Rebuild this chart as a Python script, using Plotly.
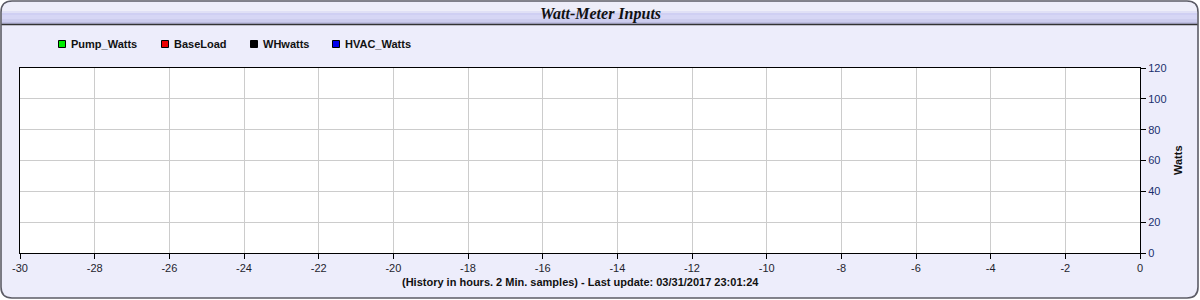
import plotly.graph_objects as go

# ---- data (chart is empty: no samples recorded) ----
series_names = ["Pump_Watts", "BaseLoad", "WHwatts", "HVAC_Watts"]
series_colors = ["#00ee00", "#ee0000", "#000000", "#0000ee"]
hours_pump, watts_pump = [], []
hours_base, watts_base = [], []
hours_wh, watts_wh = [], []
hours_hvac, watts_hvac = [], []
x_ticks = list(range(-30, 1, 2))
x_tick_labels = ["-30", "-28", "-26", "-24", "-22", "-20", "-18", "-16",
                 "-14", "-12", "-10", "-8", "-6", "-4", "-2", "0"]
y_ticks = list(range(0, 121, 20))
title_text = "Watt-Meter Inputs"
y_title = "Watts"
footer_text = "(History in hours. 2 Min. samples) - Last update: 03/31/2017 23:01:24"

W, H = 1200, 300


def px(x):
    return x / W


def py(y):
    return 1 - y / H


def rounded_path(x0, y0, x1, y1, r, top_only=False):
    # pixel coords -> paper path with quadratic corners
    pts = []
    pts.append(f"M {px(x0)},{py(y0 + r)}")
    pts.append(f"Q {px(x0)},{py(y0)} {px(x0 + r)},{py(y0)}")
    pts.append(f"L {px(x1 - r)},{py(y0)}")
    pts.append(f"Q {px(x1)},{py(y0)} {px(x1)},{py(y0 + r)}")
    if top_only:
        pts.append(f"L {px(x1)},{py(y1)}")
        pts.append(f"L {px(x0)},{py(y1)}")
    else:
        pts.append(f"L {px(x1)},{py(y1 - r)}")
        pts.append(f"Q {px(x1)},{py(y1)} {px(x1 - r)},{py(y1)}")
        pts.append(f"L {px(x0 + r)},{py(y1)}")
        pts.append(f"Q {px(x0)},{py(y1)} {px(x0)},{py(y1 - r)}")
    pts.append("Z")
    return " ".join(pts)


fig = go.Figure()
all_series = [
    (hours_pump, watts_pump),
    (hours_base, watts_base),
    (hours_wh, watts_wh),
    (hours_hvac, watts_hvac),
]
for name, color, (xs, ys) in zip(series_names, series_colors, all_series):
    fig.add_trace(go.Scatter(x=xs, y=ys, name=name, mode="lines",
                             line=dict(color=color, width=1), showlegend=False))

PL, PR, PT, PB = 20, 1140, 68, 253

shapes = []
# outer panel
shapes.append(dict(type="path", xref="paper", yref="paper", layer="below",
                   path=rounded_path(1, 1, 1198, 298, 11),
                   fillcolor="#ededfb", line=dict(color="#5c5c66", width=1.6)))
# title bar
shapes.append(dict(type="path", xref="paper", yref="paper", layer="below",
                   path=rounded_path(2, 2, 1197, 24, 10, top_only=True),
                   fillcolor="#eeeef9", line=dict(width=0)))
bands = [(11, 13, "#e0e0f6"), (13, 15, "#cfcff3"), (15, 19, "#d6d6f5"),
         (19, 22, "#cdcdee"), (22, 24, "#bdbde0")]
for y0, y1, c in bands:
    shapes.append(dict(type="rect", xref="paper", yref="paper", layer="below",
                       x0=px(2), x1=px(1197), y0=py(y0), y1=py(y1),
                       fillcolor=c, line=dict(width=0)))
shapes.append(dict(type="line", xref="paper", yref="paper", layer="below",
                   x0=px(1.5), x1=px(1197.5), y0=py(24.5), y1=py(24.5),
                   line=dict(color="#333333", width=1.5)))
# white plot area
shapes.append(dict(type="rect", xref="x domain", yref="y domain", layer="below",
                   x0=0, x1=1, y0=0, y1=1, fillcolor="white", line=dict(width=0)))

annotations = []
# legend (built from the series lists)
legend_x = [58, 161, 250, 332]
for name, color, lx in zip(series_names, series_colors, legend_x):
    shapes.append(dict(type="rect", xref="paper", yref="paper",
                       x0=px(lx + 0.5), x1=px(lx + 7.5), y0=py(47.5), y1=py(40.5),
                       fillcolor=color, line=dict(color="#000", width=1)))
    annotations.append(dict(x=px(lx + 11), y=py(44), xref="paper", yref="paper",
                            text=f"<b>{name}</b>", showarrow=False, xanchor="left",
                            yanchor="middle",
                            font=dict(family="Liberation Sans, Arial", size=11, color="#111")))

annotations.append(dict(x=px(600), y=py(14), xref="paper", yref="paper",
                        text=f"<b><i>{title_text}</i></b>", showarrow=False,
                        xanchor="center", yanchor="middle",
                        font=dict(family="Liberation Serif, Times New Roman", size=16, color="#111")))
annotations.append(dict(x=px(580), y=py(282), xref="paper", yref="paper",
                        text=f"<b>{footer_text}</b>", showarrow=False,
                        xanchor="center", yanchor="middle",
                        font=dict(family="Liberation Sans, Arial", size=11, color="#111")))
annotations.append(dict(x=px(1178), y=py(160), xref="paper", yref="paper",
                        text=f"<b>{y_title}</b>", showarrow=False, textangle=-90,
                        xanchor="center", yanchor="middle",
                        font=dict(family="Liberation Sans, Arial", size=11, color="#111")))

fig.update_layout(
    width=W, height=H,
    margin=dict(l=0, r=0, t=0, b=0, pad=0),
    paper_bgcolor="white",
    plot_bgcolor="rgba(0,0,0,0)",
    showlegend=False,
    shapes=shapes,
    annotations=annotations,
    font=dict(family="Liberation Sans, Arial", size=11, color="#222"),
    xaxis=dict(
        domain=[px(PL), px(PR)], range=[-30, 0], tickvals=x_ticks,
        ticktext=x_tick_labels, automargin=False,
        ticks="outside", ticklen=5, tickcolor="#000", showline=True, linecolor="#000",
        linewidth=1, mirror=True, showgrid=True, gridcolor="#cccccc", gridwidth=1,
        zeroline=False, tickfont=dict(size=11, color="#1e1e2e"), fixedrange=True,
    ),
    yaxis=dict(
        domain=[py(PB), py(PT)], range=[0, 120], tickvals=y_ticks, side="right",
        automargin=False,
        ticks="outside", ticklen=5, tickcolor="#000", showline=True, linecolor="#000",
        linewidth=1, mirror=True, showgrid=True, gridcolor="#cccccc", gridwidth=1,
        zeroline=False, tickfont=dict(size=11, color="#1a2f6e"), fixedrange=True,
    ),
)

fig.write_html("out.html", config={"displayModeBar": False})
